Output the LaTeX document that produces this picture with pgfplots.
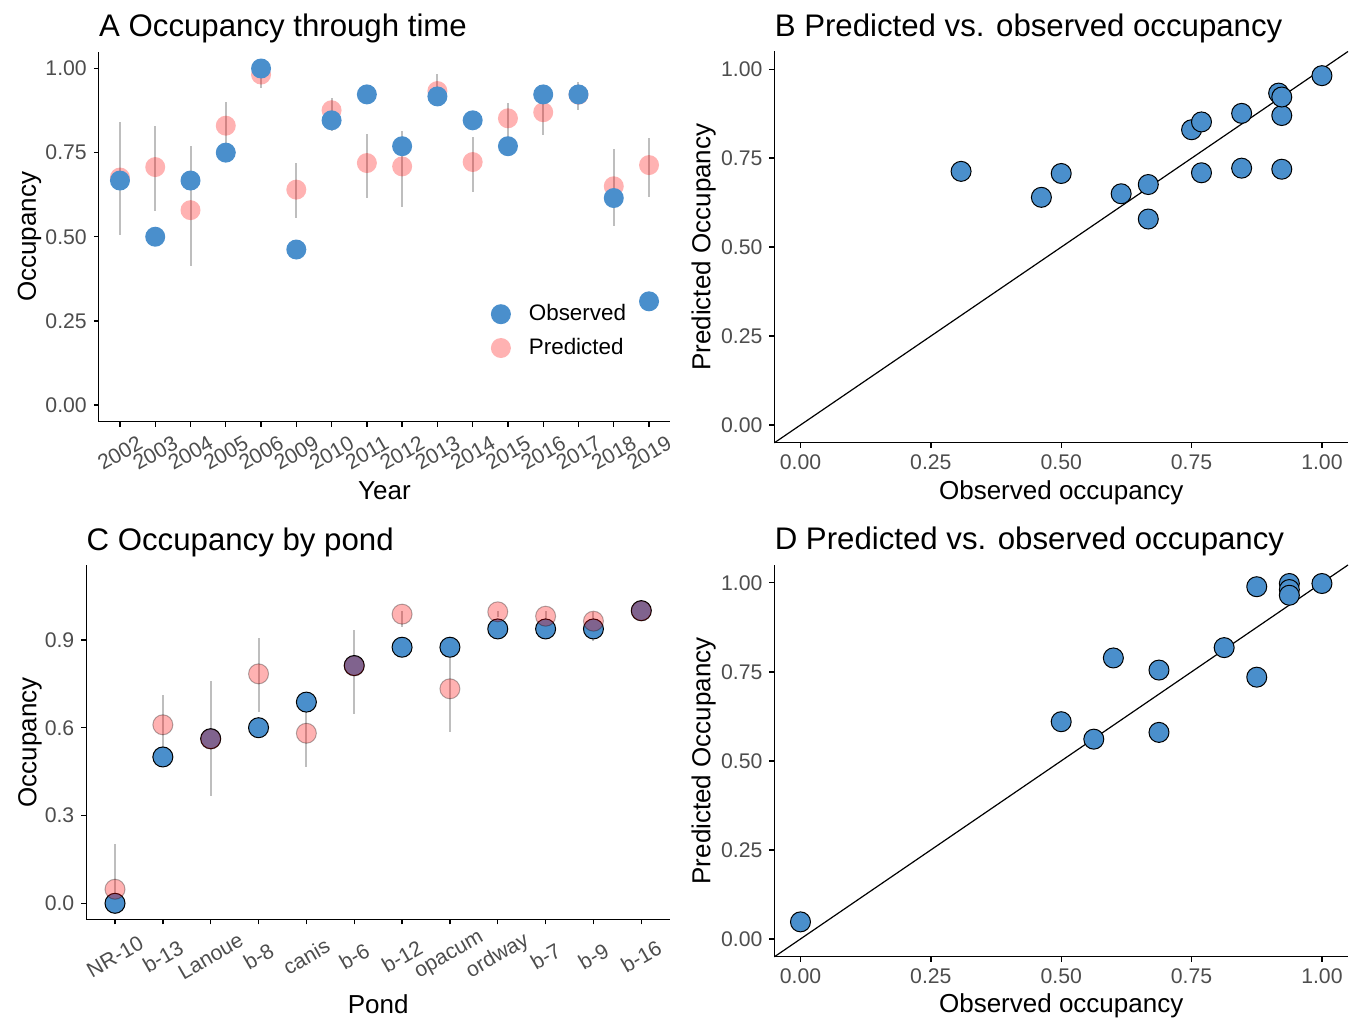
\documentclass[border=0pt]{standalone}
\usepackage{fontspec}
\setmainfont{Liberation Sans}
\usepackage{pgfplots}
\pgfplotsset{compat=1.18}
\usepackage{pgfplotstable}

\definecolor{obsblue}{RGB}{74,143,204}
\definecolor{errgrey}{RGB}{190,190,190}
\definecolor{tickgrey}{RGB}{77,77,77}

% occupancy by year: observed, predicted, interval
\pgfplotstableread{
x obs pred lo hi
0 0.667 0.676 0.506 0.841
1 0.500 0.707 0.577 0.830
2 0.667 0.579 0.412 0.771
3 0.750 0.830 0.744 0.901
4 1.000 0.982 0.942 0.999
5 0.462 0.640 0.555 0.719
6 0.846 0.876 0.815 0.913
7 0.923 0.719 0.615 0.806
8 0.769 0.709 0.587 0.815
9 0.917 0.933 0.893 0.984
10 0.846 0.722 0.633 0.797
11 0.769 0.852 0.784 0.898
12 0.923 0.870 0.801 0.910
13 0.923 0.922 0.878 0.959
14 0.615 0.650 0.531 0.761
15 0.308 0.713 0.618 0.794
}\yeardata

% occupancy by pond
\pgfplotstableread{
x obs pred lo hi
0 0.000 0.048 0.005 0.203
1 0.500 0.610 0.507 0.711
2 0.5625 0.561 0.368 0.759
3 0.600 0.784 0.653 0.905
4 0.6875 0.581 0.467 0.691
5 0.8125 0.811 0.646 0.933
6 0.875 0.988 0.943 1.000
7 0.875 0.733 0.584 0.871
8 0.9375 0.996 0.979 1.000
9 0.9375 0.981 0.913 1.000
10 0.9375 0.964 0.896 0.996
11 1.000 0.999 0.995 1.000
}\ponddata

% panel D points
\pgfplotstableread{
obs pred
0.000 0.048
0.500 0.610
0.5625 0.561
0.600 0.789
0.6875 0.755
0.6875 0.580
0.8125 0.818
0.875 0.989
0.875 0.735
0.9375 0.998
0.9375 0.981
0.9375 0.965
1.000 0.998
}\ddata

\pgfplotsset{
  panel/.style={
    scale only axis, clip=false,
    axis lines*=left,
    axis line style={-, line width=0.7pt, black},
    tick align=outside, major tick length=2.5pt,
    tick style={line width=0.7pt, black},
    /pgf/number format/assume math mode=true,
    ticklabel style={font=\fontsize{10.6}{12}\selectfont, text=tickgrey},
    label style={font=\fontsize{13}{15}\selectfont},
    title style={font=\fontsize{15.6}{18}\selectfont, anchor=base west, inner sep=0pt,
      at={([yshift=1.5pt]axis description cs:0,1)}},
  },
  twodig/.style={/pgf/number format/.cd, fixed, fixed zerofill, precision=2},
  obsA/.style={only marks, mark=*, mark size=5pt,
    mark options={draw opacity=0, fill=obsblue}},
  predA/.style={only marks, mark=*, mark size=5pt,
    mark options={draw opacity=0, fill=red, fill opacity=0.3}},
  errs/.style={draw=none, mark=none, forget plot,
    error bars/.cd, y dir=both, y explicit, error mark=none,
    error bar style={draw=errgrey, solid, line width=1pt}},
}

\begin{document}
\begin{tikzpicture}
\useasboundingbox (0,0) rectangle (677pt,510pt);

% A
\begin{axis}[panel, at={(49.4pt,299.1pt)}, anchor=south west,
  width=285.7pt, height=185.05pt,
  xmin=-0.6, xmax=15.6, ymin=-0.05, ymax=1.05,
  xtick={0,...,15},
  xticklabels={2002,2003,2004,2005,2006,2009,2010,2011,2012,2013,2014,2015,2016,2017,2018,2019},
  xticklabel style={yshift=-13pt, rotate=30, anchor=center},
  ytick={0,0.25,0.5,0.75,1}, yticklabel style={twodig},
  title={A Occupancy through time},
  xlabel={Year}, ylabel={Occupancy},
  xlabel style={at={([yshift=-39pt]axis description cs:0.5,0)}, anchor=base},
  ylabel style={at={([xshift=-31.5pt]axis description cs:0,0.5)}, anchor=base},
  legend style={at={(axis description cs:0.675,0.245)}, anchor=west,
    draw=none, fill=none, font=\fontsize{11.2}{13}\selectfont,
    nodes={inner sep=1.5pt}, row sep=4.3pt, column sep=7.5pt},
  legend cell align=left,
]
\addplot[predA, forget plot] table[x=x, y=pred] {\yeardata};
\addplot[obsA, forget plot] table[x=x, y=obs] {\yeardata};
\addplot[errs] table[x=x, y=pred,
  y error plus expr=\thisrow{hi}-\thisrow{pred},
  y error minus expr=\thisrow{pred}-\thisrow{lo}] {\yeardata};
\addlegendimage{obsA}
\addlegendentry{Observed}
\addlegendimage{predA}
\addlegendentry{Predicted}
\end{axis}

% B
\begin{axis}[panel, at={(387.2pt,288.6pt)}, anchor=south west,
  width=286.8pt, height=195.65pt,
  xmin=-0.05, xmax=1.05, ymin=-0.05, ymax=1.05,
  xtick={0,0.25,0.5,0.75,1}, ytick={0,0.25,0.5,0.75,1},
  xticklabel style={twodig}, yticklabel style={twodig},
  title={B Predicted vs. observed occupancy},
  xlabel={Observed occupancy}, ylabel={Predicted Occupancy},
  xlabel style={at={([yshift=-28.6pt]axis description cs:0.5,0)}, anchor=base},
  ylabel style={at={([xshift=-32pt]axis description cs:0,0.5)}, anchor=base},
]
\addplot[black, line width=0.6pt] coordinates {(-0.05,-0.05) (1.05,1.05)};
\addplot[only marks, mark=*, mark size=5pt,
  mark options={draw=black, line width=0.5pt, fill=obsblue}] table[x=obs, y=pred] {\yeardata};
\end{axis}

% C
\begin{axis}[panel, at={(43.15pt,50.3pt)}, anchor=south west,
  width=291.85pt, height=177.05pt,
  xmin=-0.6, xmax=11.6, ymin=-0.055, ymax=1.155,
  xtick={0,...,11},
  xticklabels={NR-10,b-13,Lanoue,b-8,canis,b-6,b-12,opacum,ordway,b-7,b-9,b-16},
  xticklabel style={yshift=-16pt, rotate=30, anchor=center},
  ytick={0,0.3,0.6,0.9},
  yticklabel style={/pgf/number format/.cd, fixed, fixed zerofill, precision=1},
  title={C Occupancy by pond},
  xlabel={Pond}, ylabel={Occupancy},
  xlabel style={at={([yshift=-47pt]axis description cs:0.5,0)}, anchor=base},
  ylabel style={at={([xshift=-25pt]axis description cs:0,0.5)}, anchor=base},
]
\addplot[only marks, mark=*, mark size=5pt,
  mark options={draw=black, line width=0.5pt, fill=obsblue}] table[x=x, y=obs] {\ponddata};
\addplot[only marks, mark=*, mark size=5pt,
  mark options={draw=black, line width=0.5pt, fill=red, opacity=0.3}] table[x=x, y=pred] {\ponddata};
\addplot[errs] table[x=x, y=pred,
  y error plus expr=\thisrow{hi}-\thisrow{pred},
  y error minus expr=\thisrow{pred}-\thisrow{lo}] {\ponddata};
\end{axis}

% D
\begin{axis}[panel, at={(387.2pt,31.6pt)}, anchor=south west,
  width=286.8pt, height=195.9pt,
  xmin=-0.05, xmax=1.05, ymin=-0.05, ymax=1.05,
  xtick={0,0.25,0.5,0.75,1}, ytick={0,0.25,0.5,0.75,1},
  xticklabel style={twodig}, yticklabel style={twodig},
  title={D Predicted vs. observed occupancy},
  xlabel={Observed occupancy}, ylabel={Predicted Occupancy},
  xlabel style={at={([yshift=-28pt]axis description cs:0.5,0)}, anchor=base},
  ylabel style={at={([xshift=-32pt]axis description cs:0,0.5)}, anchor=base},
]
\addplot[black, line width=0.6pt] coordinates {(-0.05,-0.05) (1.05,1.05)};
\addplot[only marks, mark=*, mark size=5pt,
  mark options={draw=black, line width=0.5pt, fill=obsblue}] table[x=obs, y=pred] {\ddata};
\end{axis}
\end{tikzpicture}
\end{document}
